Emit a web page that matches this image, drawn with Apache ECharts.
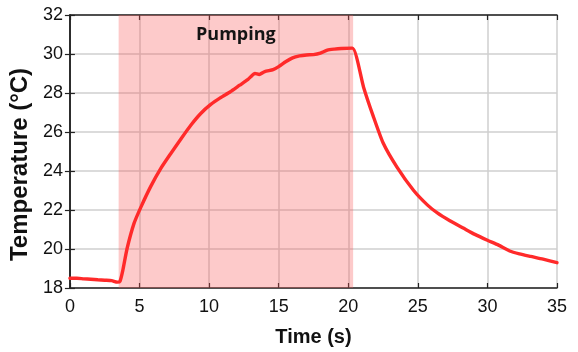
<!DOCTYPE html>
<html>
<head>
<meta charset="utf-8">
<script src="https://cdn.jsdelivr.net/npm/echarts@6/dist/echarts.min.js"></script>
<style>
html,body{margin:0;padding:0;background:#fff;}
#chart{width:578px;height:352px;}
</style>
</head>
<body>
<div id="chart"></div>
<script>
var timeS = [0,0.5,1,1.5,2,2.5,3,3.4,3.6,3.8,4.1,4.6,5.1,5.8,6.5,7.25,8.0,8.7,9.4,10.1,10.8,11.5,12.2,12.8,13.3,13.6,14.0,14.6,15.0,15.5,16.0,16.5,17.0,17.5,18.0,18.5,19.0,19.5,20.3,21.1,21.8,22.5,23.5,24.7,25.7,26.4,27.3,28.3,29.1,30.0,30.8,31.6,32.3,33.1,34.0,35];
var tempC = [18.5,18.5,18.47,18.45,18.42,18.4,18.38,18.3,18.35,18.9,20.0,21.3,22.15,23.2,24.1,24.9,25.67,26.36,26.95,27.4,27.75,28.05,28.4,28.7,29.0,28.95,29.1,29.2,29.35,29.6,29.8,29.9,29.95,29.97,30.05,30.2,30.25,30.28,30.3,28.3,26.8,25.45,24.2,23.0,22.25,21.85,21.45,21.06,20.75,20.45,20.2,19.9,19.75,19.62,19.48,19.3];
var pumpStart = 3.5, pumpEnd = 20.35;
var pumpLabel = 'Pumping';
var xTitle = 'Time (s)';
var yTitle = 'Temperature (°C)';

var data = timeS.map(function(t,i){return [t,tempC[i]];});
var chart = echarts.init(document.getElementById('chart'), null, {renderer:'canvas'});
var axisLine = {show:true, lineStyle:{color:'#222', width:1.5}};
var tick = {show:true, inside:true, length:5, lineStyle:{color:'#222', width:1.2}};
var font = 'Liberation Sans, Arial, sans-serif';
chart.setOption({
  animation:false,
  backgroundColor:'#fff',
  grid:{left:69, right:21, top:15, bottom:64},
  xAxis:[{
    type:'value', min:0, max:35, interval:5,
    axisLine:axisLine, axisTick:tick,
    axisLabel:{color:'#111', fontSize:18, fontFamily:font, margin:10},
    splitLine:{show:true, lineStyle:{color:'#cfcfcf', width:1.5}},
    name:xTitle, nameLocation:'middle', nameGap:39,
    nameTextStyle:{color:'#111', fontSize:20, fontWeight:'bold', fontFamily:font}
  },{
    type:'value', position:'top', min:0, max:35, interval:5,
    axisLine:axisLine, axisTick:tick, axisLabel:{show:false}, splitLine:{show:false}
  }],
  yAxis:[{
    type:'value', min:18, max:32, interval:2,
    axisLine:axisLine, axisTick:tick,
    axisLabel:{color:'#111', fontSize:18, fontFamily:font, margin:7},
    splitLine:{show:true, lineStyle:{color:'#cfcfcf', width:1.5}},
    name:yTitle, nameLocation:'middle', nameGap:33, nameRotate:90,
    nameTextStyle:{color:'#111', fontSize:24, fontWeight:'bold', fontFamily:font, padding:[0,26,0,0]}
  },{
    type:'value', position:'right', min:18, max:32, interval:2,
    axisLine:axisLine, axisTick:tick, axisLabel:{show:false}, splitLine:{show:false}
  }],
  series:[{
    type:'line', data:data, showSymbol:false, smooth:0.2,
    lineStyle:{color:'#ff2a2a', width:3.4, join:'round', cap:'round'},
    z:5,
    markArea:{
      silent:true,
      itemStyle:{color:'rgba(250,90,90,0.32)'},
      label:{show:true, position:'insideTop', distance:11, color:'#141414', fontSize:18, fontWeight:'bold', fontFamily:'Open Sans, Lato, sans-serif'},
      data:[[{name:pumpLabel, xAxis:pumpStart},{xAxis:pumpEnd}]]
    }
  }]
});
</script>
</body>
</html>
